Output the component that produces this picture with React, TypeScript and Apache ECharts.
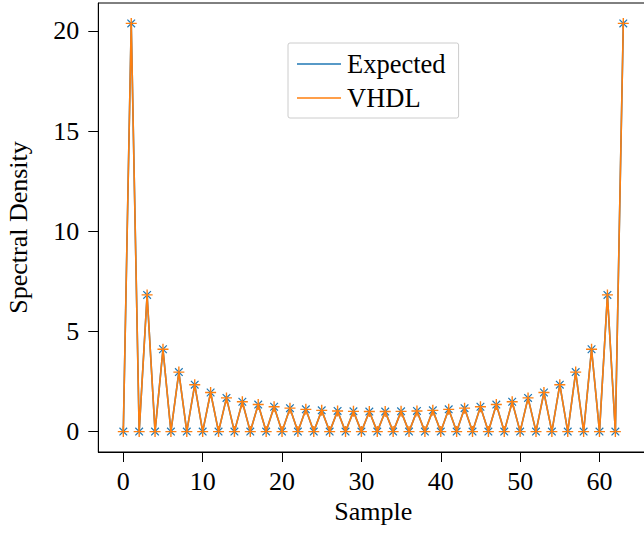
import React, { useEffect, useRef } from "react";
import * as echarts from "echarts";

const expected: number[] = [
  0, 20.37, 0, 6.82, 0, 4.11, 0, 2.97, 0, 2.34, 0, 1.95, 0, 1.68, 0, 1.49,
  0, 1.35, 0, 1.24, 0, 1.17, 0, 1.11, 0, 1.06, 0, 1.03, 0, 1.01, 0, 1.0,
  0, 1.0, 0, 1.01, 0, 1.03, 0, 1.06, 0, 1.11, 0, 1.17, 0, 1.24, 0, 1.35,
  0, 1.49, 0, 1.68, 0, 1.95, 0, 2.34, 0, 2.97, 0, 4.11, 0, 6.82, 0, 20.37,
];
const vhdl: number[] = [
  0, 20.37, 0, 6.82, 0, 4.11, 0, 2.97, 0, 2.34, 0, 1.95, 0, 1.68, 0, 1.49,
  0, 1.35, 0, 1.24, 0, 1.17, 0, 1.11, 0, 1.06, 0, 1.03, 0, 1.01, 0, 1.0,
  0, 1.0, 0, 1.01, 0, 1.03, 0, 1.06, 0, 1.11, 0, 1.17, 0, 1.24, 0, 1.35,
  0, 1.49, 0, 1.68, 0, 1.95, 0, 2.34, 0, 2.97, 0, 4.11, 0, 6.82, 0, 20.37,
];
const xTicks = [0, 10, 20, 30, 40, 50, 60];
const yTicks = [0, 5, 10, 15, 20];
const seriesNames = ["Expected", "VHDL"];

const BLUE = "#1f77b4";
const ORANGE = "#ff7f0e";
const FONT = "Liberation Serif";

const PLUS =
  "path://M5.25,0 L6.75,0 L6.75,5.25 L12,5.25 L12,6.75 L6.75,6.75 L6.75,12 L5.25,12 L5.25,6.75 L0,6.75 L0,5.25 L5.25,5.25 Z";
const CROSS =
  "path://M0,1 L1,0 L5,4 L9,0 L10,1 L6,5 L10,9 L9,10 L5,6 L1,10 L0,9 L4,5 Z";

export default function App() {
  const ref = useRef<HTMLDivElement>(null);
  useEffect(() => {
    if (!ref.current) return;
    const chart = echarts.init(ref.current, undefined, { renderer: "svg" });
    const xMin = -3.15;
    const xMax = 66.15;
    const yMax = 20.37;
    const yMin = -yMax * 0.05;
    const yTop = yMax * 1.05;
    chart.setOption({
      animation: false,
      backgroundColor: "#ffffff",
      grid: {
        left: 98.3,
        top: 3,
        width: 550,
        height: 449,
        containLabel: false,
        outerBoundsMode: "none",
        show: true,
        borderColor: "#000000",
        borderWidth: 1,
        backgroundColor: "transparent",
      },
      legend: {
        orient: "vertical",
        left: 288,
        top: 43,
        data: seriesNames,
        icon: "rect",
        itemWidth: 44,
        itemHeight: 1.5,
        itemGap: 0,
        padding: [4, 13, 3, 9],
        borderColor: "#cccccc",
        borderWidth: 1,
        borderRadius: 2,
        backgroundColor: "#ffffff",
        textStyle: {
          fontFamily: FONT,
          fontSize: 26.5,
          color: "#000000",
          lineHeight: 34,
          padding: [0, 0, 0, 1],
        },
      },
      xAxis: {
        type: "value",
        min: xMin,
        max: xMax,
        name: "Sample",
        nameLocation: "middle",
        nameGap: 46,
        nameTextStyle: { fontFamily: FONT, fontSize: 26, color: "#000000" },
        axisLine: { show: true, onZero: false, lineStyle: { color: "#000000", width: 1 } },
        axisTick: {
          show: true,
          length: 10,
          customValues: xTicks,
          lineStyle: { color: "#000000", width: 1 },
        },
        axisLabel: {
          customValues: xTicks,
          margin: 16,
          fontFamily: FONT,
          fontSize: 26,
          color: "#000000",
        },
        splitLine: { show: false },
      },
      yAxis: {
        type: "value",
        min: yMin,
        max: yTop,
        name: "Spectral Density",
        nameLocation: "middle",
        nameGap: 67,
        nameTextStyle: { fontFamily: FONT, fontSize: 26, color: "#000000" },
        axisLine: { show: true, onZero: false, lineStyle: { color: "#000000", width: 1 } },
        axisTick: {
          show: true,
          length: 10,
          customValues: yTicks,
          lineStyle: { color: "#000000", width: 1 },
        },
        axisLabel: {
          customValues: yTicks,
          margin: 19,
          fontFamily: FONT,
          fontSize: 26,
          color: "#000000",
        },
        splitLine: { show: false },
      },
      series: [
        {
          name: seriesNames[0],
          type: "line",
          data: expected.map((v, i) => [i, v]),
          symbol: CROSS,
          symbolSize: 8.5,
          showAllSymbol: true,
          color: BLUE,
          itemStyle: { color: BLUE },
          lineStyle: { color: BLUE, width: 1.6 },
          clip: false,
          z: 2,
        },
        {
          name: seriesNames[1],
          type: "line",
          data: vhdl.map((v, i) => [i, v]),
          symbol: PLUS,
          symbolSize: 11,
          showAllSymbol: true,
          color: ORANGE,
          itemStyle: { color: ORANGE },
          lineStyle: { color: ORANGE, width: 1.6 },
          clip: false,
          z: 3,
        },
      ],
    });
    return () => chart.dispose();
  }, []);
  return (
    <div
      ref={ref}
      style={{ position: "absolute", left: 0, top: 0, width: 644, height: 533 }}
    />
  );
}
